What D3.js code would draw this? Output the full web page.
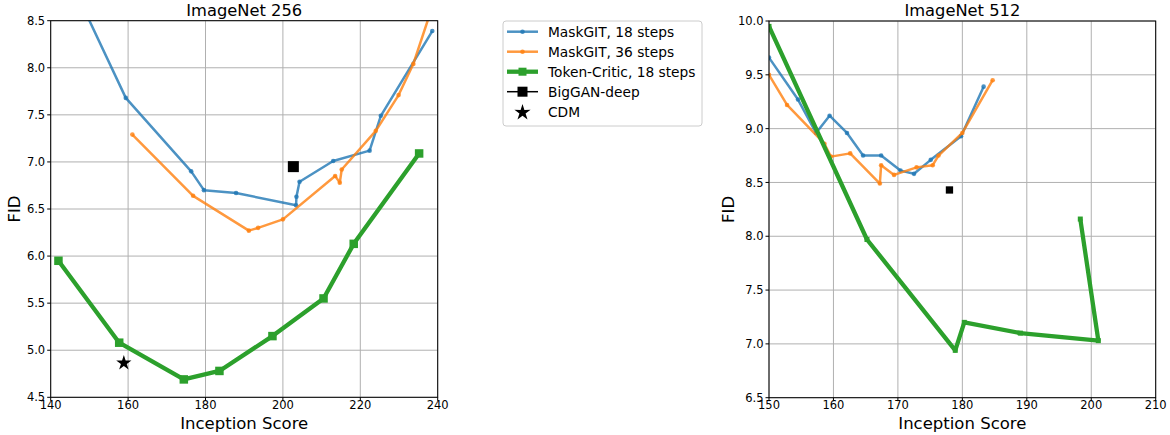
<!DOCTYPE html>
<html><head><meta charset="utf-8">
<script src="https://cdn.jsdelivr.net/npm/d3@7"></script>
<style>body{margin:0;background:#fff}svg{display:block;font-family:"DejaVu Sans",sans-serif}</style>
</head><body><svg id="c" width="1170" height="435"></svg>
<script>
// ImageNet 256
const mg18_256_is  = [146.0,159.4,176.3,179.6,187.9,203.4,203.5,204.3,213.0,222.4,225.3,238.6];
const mg18_256_fid = [8.85,7.68,6.90,6.70,6.67,6.54,6.63,6.79,7.01,7.12,7.49,8.39];
const mg36_256_is  = [161.1,176.8,191.2,193.6,200.0,213.5,214.7,215.2,224.0,229.9,233.7,239.5];
const mg36_256_fid = [7.29,6.64,6.27,6.30,6.39,6.85,6.78,6.92,7.33,7.71,8.04,8.76];
const tc_256_is    = [142.0,157.7,174.4,183.6,197.3,210.5,218.3,235.2];
const tc_256_fid   = [5.95,5.08,4.69,4.78,5.15,5.55,6.13,7.09];
const biggan_256 = [202.7, 6.95];
const cdm_256 = [158.9, 4.87];
// ImageNet 512
const mg18_512_is  = [150.0,154.5,157.3,159.4,162.1,164.6,167.4,170.4,172.5,175.1,179.8,183.3];
const mg18_512_fid = [9.66,9.27,8.96,9.12,8.96,8.75,8.75,8.61,8.58,8.71,8.93,9.39];
const mg36_512_is  = [150.0,152.8,158.6,159.6,162.6,167.2,167.4,169.4,172.9,175.4,176.3,180.0,184.7];
const mg36_512_fid = [9.50,9.22,8.86,8.74,8.77,8.49,8.66,8.57,8.64,8.66,8.75,8.96,9.45];
const tc_512_is    = [150.0,165.2,178.9,180.3,189.0,201.1,198.3];
const tc_512_fid   = [9.95,7.97,6.94,7.20,7.10,7.03,8.16];
const biggan_512 = [178.0, 8.43];
// ticks
const xt256 = [140,160,180,200,220,240], yt256 = [4.5,5.0,5.5,6.0,6.5,7.0,7.5,8.0,8.5];
const xt512 = [150,160,170,180,190,200,210], yt512 = [6.5,7.0,7.5,8.0,8.5,9.0,9.5,10.0];
const legendLabels = ["MaskGIT, 18 steps","MaskGIT, 36 steps","Token-Critic, 18 steps","BigGAN-deep","CDM"];

const BLUE="#1f77b4", ORANGE="#ff7f0e", GREEN="#2ca02c";
const svg = d3.select("#c");

function starPath(R){
  const pts=[];
  for(let i=0;i<10;i++){const r=i%2?R*0.38:R;const a=-Math.PI/2+i*Math.PI/5;pts.push([r*Math.cos(a),r*Math.sin(a)]);}
  return "M"+pts.map(p=>p.join(",")).join("L")+"Z";
}
const zip=(a,b)=>a.map((v,i)=>[v,b[i]]);

function panel(cfg){
  const x=d3.scaleLinear().domain(cfg.xd).range(cfg.xr);
  const y=d3.scaleLinear().domain(cfg.yd).range(cfg.yr);
  const g=svg.append("g");
  const id="clip"+cfg.id;
  svg.append("clipPath").attr("id",id).append("rect")
    .attr("x",cfg.xr[0]).attr("y",cfg.yr[1]).attr("width",cfg.xr[1]-cfg.xr[0]).attr("height",cfg.yr[0]-cfg.yr[1]);
  // grid
  g.selectAll(".gx").data(cfg.xt).join("line").attr("x1",d=>x(d)).attr("x2",d=>x(d)).attr("y1",cfg.yr[0]).attr("y2",cfg.yr[1]).attr("stroke","#b0b0b0").attr("stroke-width",1);
  g.selectAll(".gy").data(cfg.yt).join("line").attr("y1",d=>y(d)).attr("y2",d=>y(d)).attr("x1",cfg.xr[0]).attr("x2",cfg.xr[1]).attr("stroke","#b0b0b0").attr("stroke-width",1);
  const pg=g.append("g").attr("clip-path",`url(#${id})`);
  const line=d3.line().x(d=>x(d[0])).y(d=>y(d[1]));
  cfg.series.forEach(s=>{
    const data=zip(s.xs,s.ys);
    pg.append("path").attr("d",line(data)).attr("fill","none").attr("stroke",s.color).attr("stroke-opacity",s.op).attr("stroke-width",s.lw).attr("stroke-linejoin","round");
    if(s.marker==="circle"){
      pg.selectAll(null).data(data).join("circle").attr("cx",d=>x(d[0])).attr("cy",d=>y(d[1])).attr("r",s.ms).attr("fill",s.color).attr("fill-opacity",s.op);
    } else {
      pg.selectAll(null).data(data).join("rect").attr("x",d=>x(d[0])-s.ms/2).attr("y",d=>y(d[1])-s.ms/2).attr("width",s.ms).attr("height",s.ms).attr("fill",s.color);
    }
  });
  if(cfg.biggan){
    pg.append("rect").attr("x",x(cfg.biggan[0])-cfg.bs/2).attr("y",y(cfg.biggan[1])-cfg.bs/2).attr("width",cfg.bs).attr("height",cfg.bs).attr("fill","#000");
  }
  if(cfg.cdm){
    pg.append("path").attr("d",starPath(8)).attr("transform",`translate(${x(cfg.cdm[0])},${y(cfg.cdm[1])+0.5})`).attr("fill","#000");
  }
  // frame
  g.append("rect").attr("x",cfg.xr[0]).attr("y",cfg.yr[1]).attr("width",cfg.xr[1]-cfg.xr[0]).attr("height",cfg.yr[0]-cfg.yr[1]).attr("fill","none").attr("stroke","#000").attr("stroke-width",1);
  // ticks
  g.selectAll(".tx").data(cfg.xt).join("line").attr("x1",d=>x(d)).attr("x2",d=>x(d)).attr("y1",cfg.yr[0]).attr("y2",cfg.yr[0]+3.5).attr("stroke","#000");
  g.selectAll(".ty").data(cfg.yt).join("line").attr("y1",d=>y(d)).attr("y2",d=>y(d)).attr("x1",cfg.xr[0]).attr("x2",cfg.xr[0]-3.5).attr("stroke","#000");
  g.selectAll(".lx").data(cfg.xt).join("text").attr("x",d=>x(d)).attr("y",cfg.yr[0]+11.5).attr("text-anchor","middle").attr("font-size",11.5).text(d=>d);
  g.selectAll(".ly").data(cfg.yt).join("text").attr("x",cfg.xr[0]-5.5).attr("y",d=>y(d)).attr("dy","0.36em").attr("text-anchor","end").attr("font-size",11.5).text(d=>d.toFixed(1));
  // labels
  g.append("text").attr("x",(cfg.xr[0]+cfg.xr[1])/2).attr("y",16).attr("text-anchor","middle").attr("font-size",16.3).text(cfg.title);
  g.append("text").attr("x",(cfg.xr[0]+cfg.xr[1])/2).attr("y",429).attr("text-anchor","middle").attr("font-size",16.5).text("Inception Score");
  g.append("text").attr("transform",`translate(${cfg.ylabX},${(cfg.yr[0]+cfg.yr[1])/2}) rotate(-90)`).attr("text-anchor","middle").attr("font-size",16.5).text("FID");
}

panel({id:1,title:"ImageNet 256",xd:[140,240],yd:[4.5,8.5],xr:[50.7,437.7],yr:[397.3,20.7],xt:xt256,yt:yt256,ylabX:19.5,
  series:[
    {xs:mg18_256_is,ys:mg18_256_fid,color:BLUE,op:0.8,lw:2.5,marker:"circle",ms:2.3},
    {xs:mg36_256_is,ys:mg36_256_fid,color:ORANGE,op:0.8,lw:2.5,marker:"circle",ms:2.3},
    {xs:tc_256_is,ys:tc_256_fid,color:GREEN,op:1,lw:4.3,marker:"square",ms:8.5}
  ],biggan:biggan_256,bs:11,cdm:cdm_256});

panel({id:2,title:"ImageNet 512",xd:[150,210],yd:[6.5,10.0],xr:[769,1155.7],yr:[397.7,21],xt:xt512,yt:yt512,ylabX:733.5,
  series:[
    {xs:mg18_512_is,ys:mg18_512_fid,color:BLUE,op:0.8,lw:2.5,marker:"circle",ms:2.3},
    {xs:mg36_512_is,ys:mg36_512_fid,color:ORANGE,op:0.8,lw:2.5,marker:"circle",ms:2.3},
    {xs:tc_512_is,ys:tc_512_fid,color:GREEN,op:1,lw:4.3,marker:"square",ms:5}
  ],biggan:biggan_512,bs:7.3});

// legend
const lg=svg.append("g");
lg.append("rect").attr("x",503).attr("y",21).attr("width",199).attr("height",105).attr("rx",3).attr("fill","#fff").attr("stroke","#cccccc").attr("stroke-width",1);
const rows=[
  {c:BLUE,op:0.8,lw:2.5,m:"circle",ms:2.3},
  {c:ORANGE,op:0.8,lw:2.5,m:"circle",ms:2.3},
  {c:GREEN,op:1,lw:4.3,m:"square",ms:8},
  {c:"#000",op:1,lw:1.5,m:"square",ms:10},
  {c:"#000",op:1,lw:0,m:"star"}
];
rows.forEach((r,i)=>{
  const yy=31.7+20*i;
  if(r.lw>0) lg.append("line").attr("x1",507).attr("x2",538).attr("y1",yy).attr("y2",yy).attr("stroke",r.c).attr("stroke-opacity",r.op).attr("stroke-width",r.lw);
  if(r.m==="circle") lg.append("circle").attr("cx",522.5).attr("cy",yy).attr("r",r.ms).attr("fill",r.c).attr("fill-opacity",r.op);
  else if(r.m==="square") lg.append("rect").attr("x",522.5-r.ms/2).attr("y",yy-r.ms/2).attr("width",r.ms).attr("height",r.ms).attr("fill",r.c);
  else lg.append("path").attr("d",starPath(8.5)).attr("transform",`translate(522.5,${yy+0.8})`).attr("fill","#000");
  lg.append("text").attr("x",548).attr("y",yy).attr("dy","0.36em").attr("font-size",13.75).text(legendLabels[i]);
});
</script></body></html>
